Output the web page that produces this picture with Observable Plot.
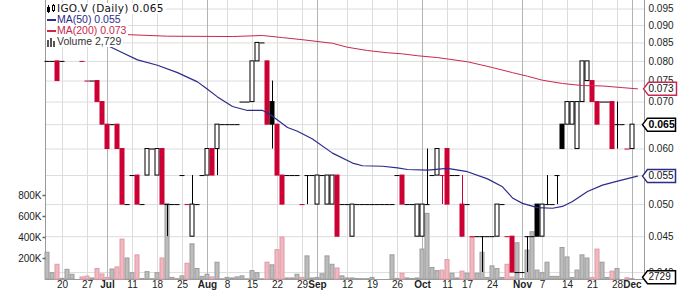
<!DOCTYPE html>
<html><head><meta charset="utf-8">
<script src="https://cdn.jsdelivr.net/npm/d3@7"></script>
<script src="https://cdn.jsdelivr.net/npm/@observablehq/plot@0.6"></script>
<style>
body{margin:0;background:#fff;}
#wrap{position:relative;width:700px;height:293px;overflow:hidden;font-family:"Liberation Sans",Arial,sans-serif;}
.layer{position:absolute;left:0;top:0;width:700px;height:293px;}
.layer svg{display:block;}
#legend{position:absolute;left:46px;top:0;}
.row{position:absolute;left:0;white-space:nowrap;background:#fff;height:11px;line-height:11px;font-size:10.5px;padding-right:2px;}
.row svg{position:absolute;left:0;top:0;}
.row span{margin-left:11px;}
</style></head><body>
<div id="wrap">
  <div id="gridLayer" class="layer"></div>
  <div id="volLayer" class="layer"></div>
  <div id="priceLayer" class="layer"></div>
  <div id="legend"></div>
</div>
<script>
// ---- data (trading-day index: 0 = Jun 20, 2011) ----
const days   = [-3,-2,-1,0,1,2,4,5,6,7, 8,9,10,11,12,13,14,15,16,17, 18,19,20,21,22,23,24,25,26,27, 28,29,30,31,32,33,34,35,36,37, 38,39,40,41,42,43,44,45,46,47, 48,49,50,51,52,53,54,55,56,57, 58,59,60,61,62,63,64,65,66,67, 68,69,70,71,72,73,74,75,76,77, 78,79,80,81,82,83,84,85,86,87, 88,89,90,91,92,93,94,95,96,97, 98,99,100,101,102,103,104,105,106,107, 108,109,110,111,112,113,114];
const opens  = [.080,.080,.080,.080,.085,.085,.080,.075,.075,.075, .070,.065,.065,.065,.060,.050,.055,.055,.050,.055, .060,.055,.060,.050,.050,.050,.055,.050,.045,.050, .055,.055,.060,.060,.065,.065,.065,.065,.070,.070, .070,.080,.085,.080,.070,.065,.055,.055,.055,.055, .050,.055,.055,.050,.055,.050,.050,.055,.050,.050, .045,.050,.050,.050,.050,.050,.050,.050,.050,.055, .055,.050,.050,.045,.045,.050,.055,.055,.055,.060, .055,.055,.050,.050,.045,.045,.045,.045,.045,.045, .050,.045,.045,.040,.040,.045,.045,.050,.045,.050, .050,.055,.065,.065,.065,.060,.070,.075,.075,.070, .070,.070,.070,.065,.065,.060,.060];
const highs  = [.080,.080,.080,.080,.085,.085,.080,.075,.075,.075, .070,.065,.065,.065,.060,.050,.055,.055,.050,.060, .060,.060,.060,.050,.050,.050,.055,.050,.055,.050, .055,.060,.060,.065,.065,.065,.065,.065,.070,.070, .080,.085,.085,.080,.075,.065,.055,.055,.055,.055, .050,.055,.055,.055,.055,.055,.055,.055,.050,.050, .050,.050,.050,.050,.050,.050,.050,.050,.050,.055, .055,.050,.050,.050,.050,.060,.055,.060,.055,.060, .055,.055,.055,.050,.045,.045,.045,.045,.045,.050, .050,.045,.045,.040,.040,.045,.045,.050,.050,.055, .050,.055,.065,.070,.070,.070,.080,.080,.075,.070, .070,.070,.070,.070,.065,.060,.065];
const lows   = [.080,.080,.075,.080,.085,.085,.080,.075,.075,.070, .065,.060,.065,.060,.050,.050,.055,.050,.050,.055, .060,.055,.050,.045,.050,.050,.055,.050,.045,.050, .055,.055,.055,.055,.065,.065,.065,.065,.070,.070, .070,.080,.085,.065,.060,.055,.050,.055,.055,.055, .050,.050,.055,.050,.055,.050,.050,.045,.050,.050, .045,.050,.050,.050,.050,.050,.050,.050,.050,.055, .050,.050,.050,.045,.045,.050,.055,.055,.050,.050, .055,.055,.045,.050,.045,.045,.040,.045,.045,.045, .050,.045,.040,.040,.040,.040,.045,.045,.045,.050, .050,.050,.060,.065,.065,.060,.070,.075,.070,.065, .070,.070,.060,.060,.065,.060,.060];
const closes = [.080,.080,.075,.080,.085,.085,.080,.075,.075,.070, .065,.060,.065,.060,.050,.050,.055,.050,.050,.060, .060,.060,.050,.050,.050,.050,.055,.050,.050,.050, .055,.060,.055,.065,.065,.065,.065,.065,.070,.070, .080,.085,.085,.065,.065,.055,.050,.055,.055,.055, .050,.055,.055,.055,.055,.055,.055,.045,.050,.050, .050,.050,.050,.050,.050,.050,.050,.050,.050,.055, .050,.050,.050,.050,.050,.050,.055,.060,.055,.050, .055,.055,.045,.050,.045,.045,.045,.045,.045,.050, .050,.045,.040,.040,.040,.045,.045,.045,.050,.050, .050,.055,.060,.070,.070,.070,.080,.080,.070,.065, .070,.070,.060,.065,.065,.060,.065];
const volumesK = [255,60,140,6,92,45,20,28,10,100, 48,15,95,115,380,200,60,230,4,70, 3,60,200,720,15,3,30,150,335,100, 25,45,20,160,2,15,10,20,30,2, 80,60,2,160,135,280,400,10,10,45, 15,220,10,15,50,220,140,105,30,10, 10,5,3,3,15,0,0,0,230,5, 55,10,5,10,285,625,110,80,85,185, 55,10,75,55,395,55,255,15,125,100, 15,140,20,345,5,275,450,85,60,160, 25,25,300,210,15,85,230,200,15,285, 160,15,75,100,0,12,2.729];

const ma50Days = [9,12,15,19,23,27,29,31,34,37, 40,41,43,45,47,50,54,58,60,64, 67,69,73,77,81,85,88,90,92,95, 98,100,102,105,108,111,115];
const ma50Vals = [0.0843,0.0823,0.0804,0.0790,0.0771,0.0748,0.0730,0.0712,0.0690,0.0681, 0.0681,0.0676,0.0660,0.0644,0.0636,0.0620,0.0592,0.0573,0.0568,0.0567, 0.0564,0.0561,0.0560,0.0563,0.0557,0.0544,0.0530,0.0511,0.0502,0.0495, 0.0494,0.0497,0.0505,0.0522,0.0533,0.0540,0.0549];
const ma200Days = [-3,12,21,34,40,44,48,54,57,61,65,68,71,75,81,86,90,93,96,100,104,108,112,115];
const ma200Vals = [0.0876,0.0874,0.0869,0.0868,0.0871,0.0865,0.0859,0.0849,0.0838,0.0829,0.0823,0.0820,0.0815,0.0810,0.0799,0.0784,0.0771,0.0762,0.0752,0.0744,0.0739,0.0738,0.0734,0.0731];

const priceTicks = [0.040,0.045,0.050,0.055,0.060,0.065,0.070,0.075,0.080,0.085,0.090,0.095];
const volTicksK = [200,400,600,800];
const weekDays = [0,5,14,19,24,33,38,43,48,57,62,67,77,81,86,96,101,106,111];
const weekLabels = ["20","27","11","18","25","8","15","22","29","12","19","26","11","17","24","7","14","21","28"];
const monthDays = [9,29,51,72,92,114];
const monthLabels = ["Jul","Aug","Sep","Oct","Nov","Dec"];

// ---- styling / layout ----
const RED = "#cc0033", BLACK = "#000";
const MA50C = "#2b2b8a", MA200C = "#c8284f";
const W = 700, H = 293;
const margins = {marginLeft: 45, marginRight: 56, marginTop: 0, marginBottom: 14};
const xDomain = [-3.4, 116.4];
const yDomain = [0.0391, 0.0977];
const font = {fontFamily: "Liberation Sans, Arial, sans-serif", fontSize: "10px"};
const fmt3 = d3.format(".3f");

const candles = days.map((d, i) => ({
  day: d, open: opens[i], high: highs[i], low: lows[i], close: closes[i], volume: volumesK[i],
  down: i > 0 && closes[i] < closes[i - 1]
}));
const ma50 = ma50Days.map((d, i) => ({day: d, v: ma50Vals[i]}));
const ma200 = ma200Days.map((d, i) => ({day: d, v: ma200Vals[i]}));
const lastClose = closes[closes.length - 1];
const lastMA50 = ma50Vals[ma50Vals.length - 1];
const lastMA200 = ma200Vals[ma200Vals.length - 1];
const lastVol = volumesK[volumesK.length - 1];

const tagShape = {draw(ctx) { ctx.moveTo(0, 0); ctx.lineTo(5, -6.5); ctx.lineTo(33, -6.5); ctx.lineTo(33, 6.5); ctx.lineTo(5, 6.5); ctx.closePath(); }};
const tickShape = {draw(ctx) { ctx.moveTo(-3, 0); ctx.lineTo(0, 0); }};

// Layer A: grid, price axis labels, date labels
const gridPlot = Plot.plot({
  width: W, height: H, ...margins,
  style: {background: "#fff", overflow: "visible", ...font},
  x: {domain: xDomain, axis: null},
  y: {type: "log", domain: yDomain, axis: null},
  marks: [
    Plot.ruleY(priceTicks, {stroke: "#dcdcdc"}),
    Plot.ruleX(weekDays, {stroke: "#dcdcdc"}),
    Plot.ruleX(monthDays, {stroke: "#b4b4b4"}),
    Plot.ruleX(xDomain, {stroke: "#9a9a9a"}),
    Plot.ruleY([yDomain[0]], {stroke: "#9a9a9a"}),
    Plot.text(priceTicks, {y: d => d, text: d => fmt3(d), frameAnchor: "right", textAnchor: "start", dx: 4, fill: "#222", fontSize: 10}),
    Plot.text(weekDays, {x: d => d, text: (d, i) => weekLabels[i], frameAnchor: "bottom", dy: 8, fill: "#222", fontSize: 10}),
    Plot.text(monthDays, {x: d => d, text: (d, i) => monthLabels[i], frameAnchor: "bottom", dy: 8, fill: "#222", fontSize: 10, fontWeight: "bold"})
  ]
});
document.getElementById("gridLayer").append(gridPlot);

// Layer B: volume
const volPlot = Plot.plot({
  width: W, height: H, ...margins,
  style: {background: "transparent", overflow: "visible", ...font},
  x: {domain: xDomain, axis: null},
  y: {domain: [0, 2657], axis: null},
  marks: [
    Plot.rect(candles.filter(d => d.volume > 0), {
      x1: d => d.day - 0.4, x2: d => d.day + 0.4, y1: d => 0, y2: d => d.volume,
      fill: d => d.down ? "#f0b8c0" : "#bcbcbc", stroke: d => d.down ? "#e29aa6" : "#9c9c9c"
    }),
    Plot.text(volTicksK, {y: d => d, text: d => d + "K", frameAnchor: "left", textAnchor: "end", dx: -4, fill: "#222", fontSize: 10}),
    Plot.dot(volTicksK, {y: d => d, frameAnchor: "left", symbol: tickShape, stroke: "#666", fill: "none"}),
    Plot.dot([lastVol], {y: d => d, frameAnchor: "right", dx: -2, dy: -2, symbol: tagShape, fill: "#fff", stroke: "#000"}),
    Plot.text([lastVol], {y: d => d, frameAnchor: "right", dx: 4, dy: -2, textAnchor: "start", text: d => String(Math.round(d * 1000)), fill: "#111", fontSize: 10})
  ]
});
document.getElementById("volLayer").append(volPlot);

// Layer C: candles and moving averages
const pricePlot = Plot.plot({
  width: W, height: H, ...margins,
  style: {background: "transparent", overflow: "visible", ...font},
  x: {domain: xDomain, axis: null},
  y: {type: "log", domain: yDomain, axis: null},
  marks: [
    Plot.ruleX(candles.filter(d => d.high > d.low), {x: "day", y1: "low", y2: "high", stroke: d => d.down ? RED : BLACK}),
    Plot.rect(candles.filter(d => d.open !== d.close), {
      x1: d => d.day - 0.4, x2: d => d.day + 0.4, y1: "open", y2: "close",
      fill: d => d.close < d.open ? (d.down ? RED : BLACK) : "#fff",
      stroke: d => d.down ? RED : BLACK
    }),
    Plot.ruleY(candles.filter(d => d.open === d.close), {y: "close", x1: d => d.day - 0.5, x2: d => d.day + 0.5, stroke: d => d.down ? RED : BLACK}),
    Plot.line(ma200, {x: "day", y: "v", stroke: MA200C, strokeWidth: 1}),
    Plot.line(ma50, {x: "day", y: "v", stroke: MA50C, strokeWidth: 1.2}),
    Plot.dot([lastMA200], {y: d => d, frameAnchor: "right", dx: -1, symbol: tagShape, fill: "#fff", stroke: MA200C}),
    Plot.text([lastMA200], {y: d => d, frameAnchor: "right", dx: 4, textAnchor: "start", text: d => fmt3(d), fill: "#111", fontSize: 10}),
    Plot.dot([lastClose], {y: d => d, frameAnchor: "right", dx: -2, symbol: tagShape, fill: "#fff", stroke: "#000"}),
    Plot.text([lastClose], {y: d => d, frameAnchor: "right", dx: 4, textAnchor: "start", text: d => fmt3(d), fill: "#000", fontSize: 10.5, fontWeight: "bold"}),
    Plot.dot([lastMA50], {y: d => d, frameAnchor: "right", dx: -2, symbol: tagShape, fill: "#fff", stroke: MA50C}),
    Plot.text([lastMA50], {y: d => d, frameAnchor: "right", dx: 4, textAnchor: "start", text: d => fmt3(d), fill: "#111", fontSize: 10})
  ]
});
document.getElementById("priceLayer").append(pricePlot);

// Legend (inside the chart, top-left)
const legendRows = [
  {top: 3, color: "#111", font: "'DejaVu Sans', sans-serif", spacing: "0.3px",
   icon: '<svg width="10" height="11"><line x1="2.5" y1="2" x2="2.5" y2="10" stroke="#000"/><rect x="1" y="4" width="3" height="5" fill="#000"/><line x1="7.5" y1="1" x2="7.5" y2="9" stroke="#000"/><rect x="6.5" y="2.5" width="2" height="5" fill="#fff" stroke="#000"/></svg>',
   text: "IGO.V (Daily) " + fmt3(lastClose)},
  {top: 13.5, color: MA50C, font: "'Liberation Sans', Arial, sans-serif", spacing: "0",
   icon: '<svg width="10" height="11"><line x1="1" y1="6" x2="10" y2="6" stroke="' + MA50C + '" stroke-width="2"/></svg>',
   text: "MA(50) " + fmt3(lastMA50)},
  {top: 24.5, color: MA200C, font: "'Liberation Sans', Arial, sans-serif", spacing: "0",
   icon: '<svg width="10" height="11"><line x1="1" y1="6" x2="10" y2="6" stroke="' + MA200C + '" stroke-width="2"/></svg>',
   text: "MA(200) " + fmt3(lastMA200)},
  {top: 35.5, color: "#333", font: "'Liberation Sans', Arial, sans-serif", spacing: "0",
   icon: '<svg width="10" height="11"><rect x="1" y="4" width="2" height="7" fill="#555"/><rect x="4" y="2" width="2" height="9" fill="#555"/><rect x="7" y="5" width="2" height="6" fill="#555"/></svg>',
   text: "Volume " + d3.format(",")(Math.round(lastVol * 1000))}
];
const legend = document.getElementById("legend");
for (const r of legendRows) {
  const div = document.createElement("div");
  div.className = "row";
  div.style.top = r.top + "px";
  div.style.color = r.color;
  div.style.fontFamily = r.font;
  div.style.letterSpacing = r.spacing;
  div.innerHTML = r.icon + "<span>" + r.text + "</span>";
  legend.append(div);
}
</script>
</body></html>
